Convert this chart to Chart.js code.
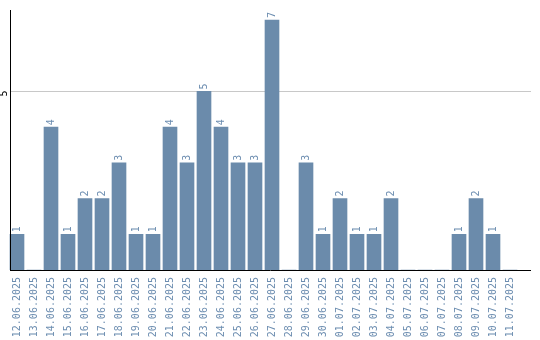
<!DOCTYPE html>
<html>
<head>
<meta charset="utf-8">
<script src="https://cdn.jsdelivr.net/npm/chart.js@4/dist/chart.umd.min.js"></script>
<style>
html,body{margin:0;padding:0;background:#fff;}
canvas{display:block;}
</style>
</head>
<body>
<canvas id="c" width="540" height="340"></canvas>
<script>
const dates = ["12.06.2025","13.06.2025","14.06.2025","15.06.2025","16.06.2025","17.06.2025","18.06.2025","19.06.2025","20.06.2025","21.06.2025","22.06.2025","23.06.2025","24.06.2025","25.06.2025","26.06.2025","27.06.2025","28.06.2025","29.06.2025","30.06.2025","01.07.2025","02.07.2025","03.07.2025","04.07.2025","05.07.2025","06.07.2025","07.07.2025","08.07.2025","09.07.2025","10.07.2025","11.07.2025"];
const counts = [1,0,4,1,2,2,3,1,1,4,3,5,4,3,3,7,0,3,1,2,1,1,2,0,0,0,1,2,1,0];
const yTicks = [5];

const barColor = '#6b8bab';
const textColor = '#6c8db0';
const monoFont = '10px "DejaVu Sans Mono", monospace';

const decor = {
  id: 'decor',
  beforeDatasetsDraw(chart) {
    const ctx = chart.ctx, y = chart.scales.y;
    ctx.save();
    ctx.strokeStyle = '#c8c8c8';
    ctx.lineWidth = 1;
    yTicks.forEach(v => {
      const py = Math.round(y.getPixelForValue(v)) + 0.5;
      ctx.beginPath();
      ctx.moveTo(10, py);
      ctx.lineTo(531, py);
      ctx.stroke();
    });
    ctx.restore();
  },
  afterDatasetsDraw(chart) {
    const ctx = chart.ctx, y = chart.scales.y, a = chart.chartArea;
    ctx.save();
    ctx.strokeStyle = '#000';
    ctx.lineWidth = 1;
    ctx.beginPath();
    ctx.moveTo(10.5, a.top);
    ctx.lineTo(10.5, a.bottom + 0.5);
    ctx.moveTo(10, a.bottom + 0.5);
    ctx.lineTo(531, a.bottom + 0.5);
    ctx.stroke();
    ctx.fillStyle = '#000';
    ctx.font = monoFont;
    yTicks.forEach(v => {
      const py = y.getPixelForValue(v);
      ctx.save();
      ctx.translate(4, py + 2);
      ctx.rotate(-Math.PI / 2);
      ctx.textAlign = 'center';
      ctx.textBaseline = 'middle';
      ctx.fillText(String(v), 0, 0);
      ctx.restore();
    });
    const meta = chart.getDatasetMeta(0);
    ctx.fillStyle = textColor;
    meta.data.forEach((bar, i) => {
      const v = counts[i];
      if (!v) return;
      ctx.save();
      ctx.translate(bar.x, bar.y - 2);
      ctx.rotate(-Math.PI / 2);
      ctx.textAlign = 'left';
      ctx.textBaseline = 'middle';
      ctx.fillText(String(v), 0, 0);
      ctx.restore();
    });
    ctx.restore();
  }
};

new Chart(document.getElementById('c'), {
  type: 'bar',
  data: {
    labels: dates,
    datasets: [{
      data: counts,
      backgroundColor: barColor,
      borderWidth: 0,
      barThickness: 14
    }]
  },
  options: {
    responsive: false,
    animation: false,
    devicePixelRatio: 1,
    layout: { padding: { left: 8.5, right: 21.5, top: 10, bottom: 0 } },
    plugins: { legend: { display: false }, tooltip: { enabled: false } },
    scales: {
      x: {
        grid: { display: false, drawTicks: false },
        border: { display: false },
        ticks: {
          autoSkip: false,
          minRotation: 90,
          maxRotation: 90,
          padding: 7,
          color: textColor,
          font: { family: '"DejaVu Sans Mono", monospace', size: 10 }
        },
        afterFit(s) { s.height = 70; }
      },
      y: {
        display: false,
        min: 0,
        max: 7.28
      }
    }
  },
  plugins: [decor]
});
</script>
</body>
</html>
